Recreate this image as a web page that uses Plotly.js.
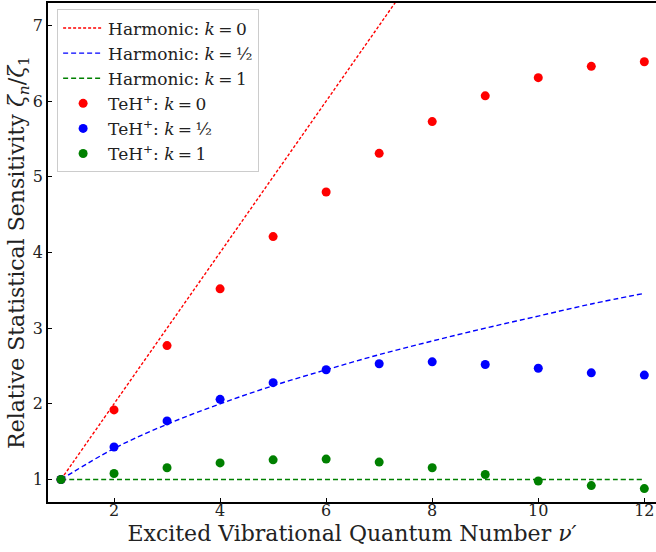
<!DOCTYPE html>
<html>
<head>
<meta charset="utf-8">
<script src="https://cdn.plot.ly/plotly-3.0.1.min.js"></script>
<style>html,body{margin:0;padding:0;background:#fff;}#chart{width:656px;height:552px;}</style>
</head>
<body>
<div id="chart"></div>
<script>
// Excited vibrational quantum number
const nuLevels = [1, 2, 3, 4, 5, 6, 7, 8, 9, 10, 11, 12];
// Harmonic reference curves
const harmonicK0 = [1, 2, 3, 4, 5, 6, 7, 8, 9, 10, 11, 12];
const harmonicKhalf = [1, 1.41, 1.73, 2.0, 2.24, 2.45, 2.65, 2.83, 3.0, 3.16, 3.32, 3.46];
const harmonicK1 = [1, 1, 1, 1, 1, 1, 1, 1, 1, 1, 1, 1];
// TeH+ values
const tehK0 = [1, 1.92, 2.77, 3.52, 4.21, 4.80, 5.31, 5.73, 6.07, 6.31, 6.46, 6.52];
const tehKhalf = [1, 1.43, 1.775, 2.06, 2.28, 2.45, 2.53, 2.555, 2.52, 2.47, 2.41, 2.38];
const tehK1 = [1, 1.08, 1.155, 1.22, 1.26, 1.27, 1.23, 1.155, 1.066, 0.98, 0.92, 0.88];
const xTicks = [2, 4, 6, 8, 10, 12];
const yTicks = [1, 2, 3, 4, 5, 6, 7];

const serif = "DejaVu Serif, serif";
const lineTrace = (y, color, name, dash) => ({
  x: nuLevels, y: y, mode: 'lines', name: name,
  line: {color: color, width: 1.4, dash: dash, shape: 'spline'}
});
const ptTrace = (y, color, name) => ({
  x: nuLevels, y: y, mode: 'markers', name: name,
  marker: {color: color, size: 9}
});

const data = [
  lineTrace(harmonicK0, '#ff0000', 'Harmonic: <i>k</i>\u2009=\u20090', '3px,2px'),
  lineTrace(harmonicKhalf, '#0000ff', 'Harmonic: <i>k</i>\u2009=\u2009½', '5px,3px'),
  lineTrace(harmonicK1, '#008000', 'Harmonic: <i>k</i>\u2009=\u20091', '5px,3px'),
  ptTrace(tehK0, '#ff0000', 'TeH<sup>+</sup>: <i>k</i>\u2009=\u20090'),
  ptTrace(tehKhalf, '#0000ff', 'TeH<sup>+</sup>: <i>k</i>\u2009=\u2009½'),
  ptTrace(tehK1, '#008000', 'TeH<sup>+</sup>: <i>k</i>\u2009=\u20091')
];

const layout = {
  width: 656, height: 552,
  margin: {l: 48, r: 0, t: 3, b: 50},
  paper_bgcolor: '#fff', plot_bgcolor: '#fff',
  font: {family: serif, color: '#222', size: 16},
  showlegend: true,
  legend: {
    x: 0.015, y: 0.987, xanchor: 'left', yanchor: 'top',
    bgcolor: 'rgba(255,255,255,0.85)', bordercolor: '#cccccc', borderwidth: 1,
    font: {family: serif, size: 17, color: '#222'},
    itemwidth: 40
  },
  xaxis: {
    range: [0.755, 12.22], tickvals: xTicks, ticktext: xTicks.map(String),
    ticks: 'inside', ticklen: 4, tickwidth: 1, tickcolor: '#000',
    ticklabelstandoff: -7,
    showline: true, linecolor: '#000', linewidth: 1.8, mirror: true,
    showgrid: false, zeroline: false,
    tickfont: {family: serif, size: 16, color: '#222'},
    title: {text: 'Excited Vibrational Quantum Number <i>ν′</i>', font: {family: serif, size: 22, color: '#222'}, standoff: 6}
  },
  yaxis: {
    range: [0.703, 7.297], tickvals: yTicks, ticktext: yTicks.map(String),
    ticks: 'inside', ticklen: 4, tickwidth: 1, tickcolor: '#000',
    showline: true, linecolor: '#000', linewidth: 1.8, mirror: false,
    showgrid: false, zeroline: false,
    tickfont: {family: serif, size: 16, color: '#222'},
    title: {text: 'Relative Statistical Sensitivity <i>ζ<sub>n</sub></i>/<i>ζ</i><sub>1</sub>', font: {family: serif, size: 22, color: '#222'}, standoff: 0}
  }
};

Plotly.newPlot('chart', data, layout, {displayModeBar: false, staticPlot: true});
</script>
</body>
</html>
